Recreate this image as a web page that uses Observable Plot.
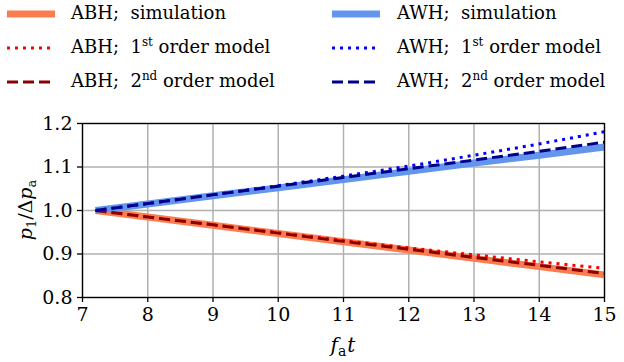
<!DOCTYPE html>
<html>
<head>
<meta charset="utf-8">
<script src="https://cdn.jsdelivr.net/npm/d3@7"></script>
<script src="https://cdn.jsdelivr.net/npm/@observablehq/plot@0.6"></script>
<style>
  html, body { margin: 0; padding: 0; background: #fff; }
  #wrap { position: relative; width: 624px; height: 362px; font-family: "DejaVu Serif", serif; color: #000; }
  .leg { position: absolute; font-size: 18px; white-space: pre; line-height: 1; }
  .leg sup { font-size: 12px; vertical-align: 0; position: relative; top: -7px; }
  #chart { position: absolute; left: 0; top: 100px; }
</style>
</head>
<body>
<div id="wrap">
  <div id="legend"></div>
  <div id="chart"></div>
</div>
<script>
// ---- data ----
const fat = [7.2, 8, 9, 10, 11, 12, 13, 14, 15];
const abhSim = [1.0, 0.985, 0.966, 0.947, 0.928, 0.909, 0.890, 0.871, 0.852];
const abh1st = [1.0, 0.985, 0.967, 0.949, 0.931, 0.914, 0.898, 0.882, 0.867];
const abh2nd = [1.0, 0.985, 0.967, 0.948, 0.929, 0.911, 0.892, 0.874, 0.855];
const awhSim = [1.0, 1.015, 1.034, 1.052, 1.071, 1.090, 1.109, 1.127, 1.146];
const awh1st = [1.0, 1.016, 1.036, 1.057, 1.079, 1.102, 1.127, 1.153, 1.181];
const awh2nd = [1.0, 1.016, 1.036, 1.056, 1.076, 1.096, 1.116, 1.136, 1.157];
const xTicks = [7, 8, 9, 10, 11, 12, 13, 14, 15];
const yTicks = [0.8, 0.9, 1.0, 1.1, 1.2];

const FONT = '"DejaVu Serif", serif';

const seriesDefs = [
  {key: "ABH; simulation", vals: abhSim, stroke: "#fb7d4f", width: 7, dash: null, legend: "ABH;  simulation", col: 0, row: 0},
  {key: "AWH; simulation", vals: awhSim, stroke: "#6495ed", width: 7, dash: null, legend: "AWH;  simulation", col: 1, row: 0},
  {key: "ABH; 1st", vals: abh1st, stroke: "#ff0000", width: 3, dash: "3,5", legend: "ABH;  1<sup>st</sup> order model", col: 0, row: 1},
  {key: "AWH; 1st", vals: awh1st, stroke: "#0000ff", width: 3, dash: "3,5", legend: "AWH;  1<sup>st</sup> order model", col: 1, row: 1},
  {key: "ABH; 2nd", vals: abh2nd, stroke: "#8b0000", width: 3, dash: "11,5", legend: "ABH;  2<sup>nd</sup> order model", col: 0, row: 2},
  {key: "AWH; 2nd", vals: awh2nd, stroke: "#00008b", width: 3, dash: "11,5", legend: "AWH;  2<sup>nd</sup> order model", col: 1, row: 2}
];

// ---- legend ----
const legend = document.getElementById("legend");
const colX = [[7, 71], [332, 397]];
const rowY = [14, 48, 82];
for (const s of seriesDefs) {
  const [sx, tx] = colX[s.col];
  const cy = rowY[s.row];
  const sw = document.createElementNS("http://www.w3.org/2000/svg", "svg");
  sw.setAttribute("width", 50); sw.setAttribute("height", 12);
  sw.style.position = "absolute"; sw.style.left = sx + "px"; sw.style.top = (cy - 6) + "px";
  const ln = document.createElementNS("http://www.w3.org/2000/svg", "line");
  ln.setAttribute("x1", 0); ln.setAttribute("x2", 48); ln.setAttribute("y1", 6); ln.setAttribute("y2", 6);
  ln.setAttribute("stroke", s.stroke); ln.setAttribute("stroke-width", s.width);
  if (s.dash) ln.setAttribute("stroke-dasharray", s.dash);
  sw.appendChild(ln);
  legend.appendChild(sw);
  const t = document.createElement("div");
  t.className = "leg";
  t.style.left = tx + "px"; t.style.top = (cy - 10) + "px";
  t.innerHTML = s.legend;
  legend.appendChild(t);
}

// ---- chart ----
const rows = s => fat.map((x, i) => ({x, y: s.vals[i]}));
const lineMarks = seriesDefs.map(s => Plot.line(rows(s), {
  x: "x", y: "y", stroke: s.stroke, strokeWidth: s.width,
  strokeDasharray: s.dash || undefined, strokeLinecap: "butt"
}));

const chart = Plot.plot({
  width: 624, height: 262,
  marginTop: 23, marginBottom: 65, marginLeft: 82, marginRight: 20,
  style: {fontFamily: FONT, fontSize: "19px", color: "#000", background: "#fff", overflow: "visible"},
  x: {domain: [7, 15], label: null},
  y: {domain: [0.8, 1.2], label: null},
  marks: [
    Plot.gridX(xTicks, {stroke: "#b0b0b0", strokeOpacity: 1, strokeWidth: 1.5}),
    Plot.gridY(yTicks, {stroke: "#b0b0b0", strokeOpacity: 1, strokeWidth: 1.5}),
    ...lineMarks,
    Plot.frame({stroke: "#000", strokeWidth: 1.3}),
    Plot.axisX(xTicks, {tickSize: 5, tickPadding: 5, label: null, fontSize: 19, strokeWidth: 1.3}),
    Plot.axisY(yTicks, {tickSize: 5, tickPadding: 5, label: null, fontSize: 19, strokeWidth: 1.3, tickFormat: d3.format(".1f")})
  ]
});
document.getElementById("chart").appendChild(chart);

// axis titles with sub-scripts
const svg = d3.select(chart);
const xl = svg.append("text")
  .attr("x", 343).attr("y", 252).attr("text-anchor", "middle")
  .attr("font-size", 20).attr("fill", "#000").style("font-family", FONT);
xl.append("tspan").attr("font-style", "italic").text("f");
xl.append("tspan").attr("font-size", 14).attr("dy", 4).text("a");
xl.append("tspan").attr("font-style", "italic").attr("dy", -4).attr("dx", 1).text("t");

const yl = svg.append("text")
  .attr("transform", "translate(32,110) rotate(-90)").attr("text-anchor", "middle")
  .attr("font-size", 19).attr("fill", "#000").style("font-family", FONT);
yl.append("tspan").attr("font-style", "italic").text("p");
yl.append("tspan").attr("font-size", 13).attr("dy", 4).text("1");
yl.append("tspan").attr("dy", -4).text("/Δ");
yl.append("tspan").attr("font-style", "italic").text("p");
yl.append("tspan").attr("font-size", 13).attr("dy", 4).text("a");
</script>
</body>
</html>
